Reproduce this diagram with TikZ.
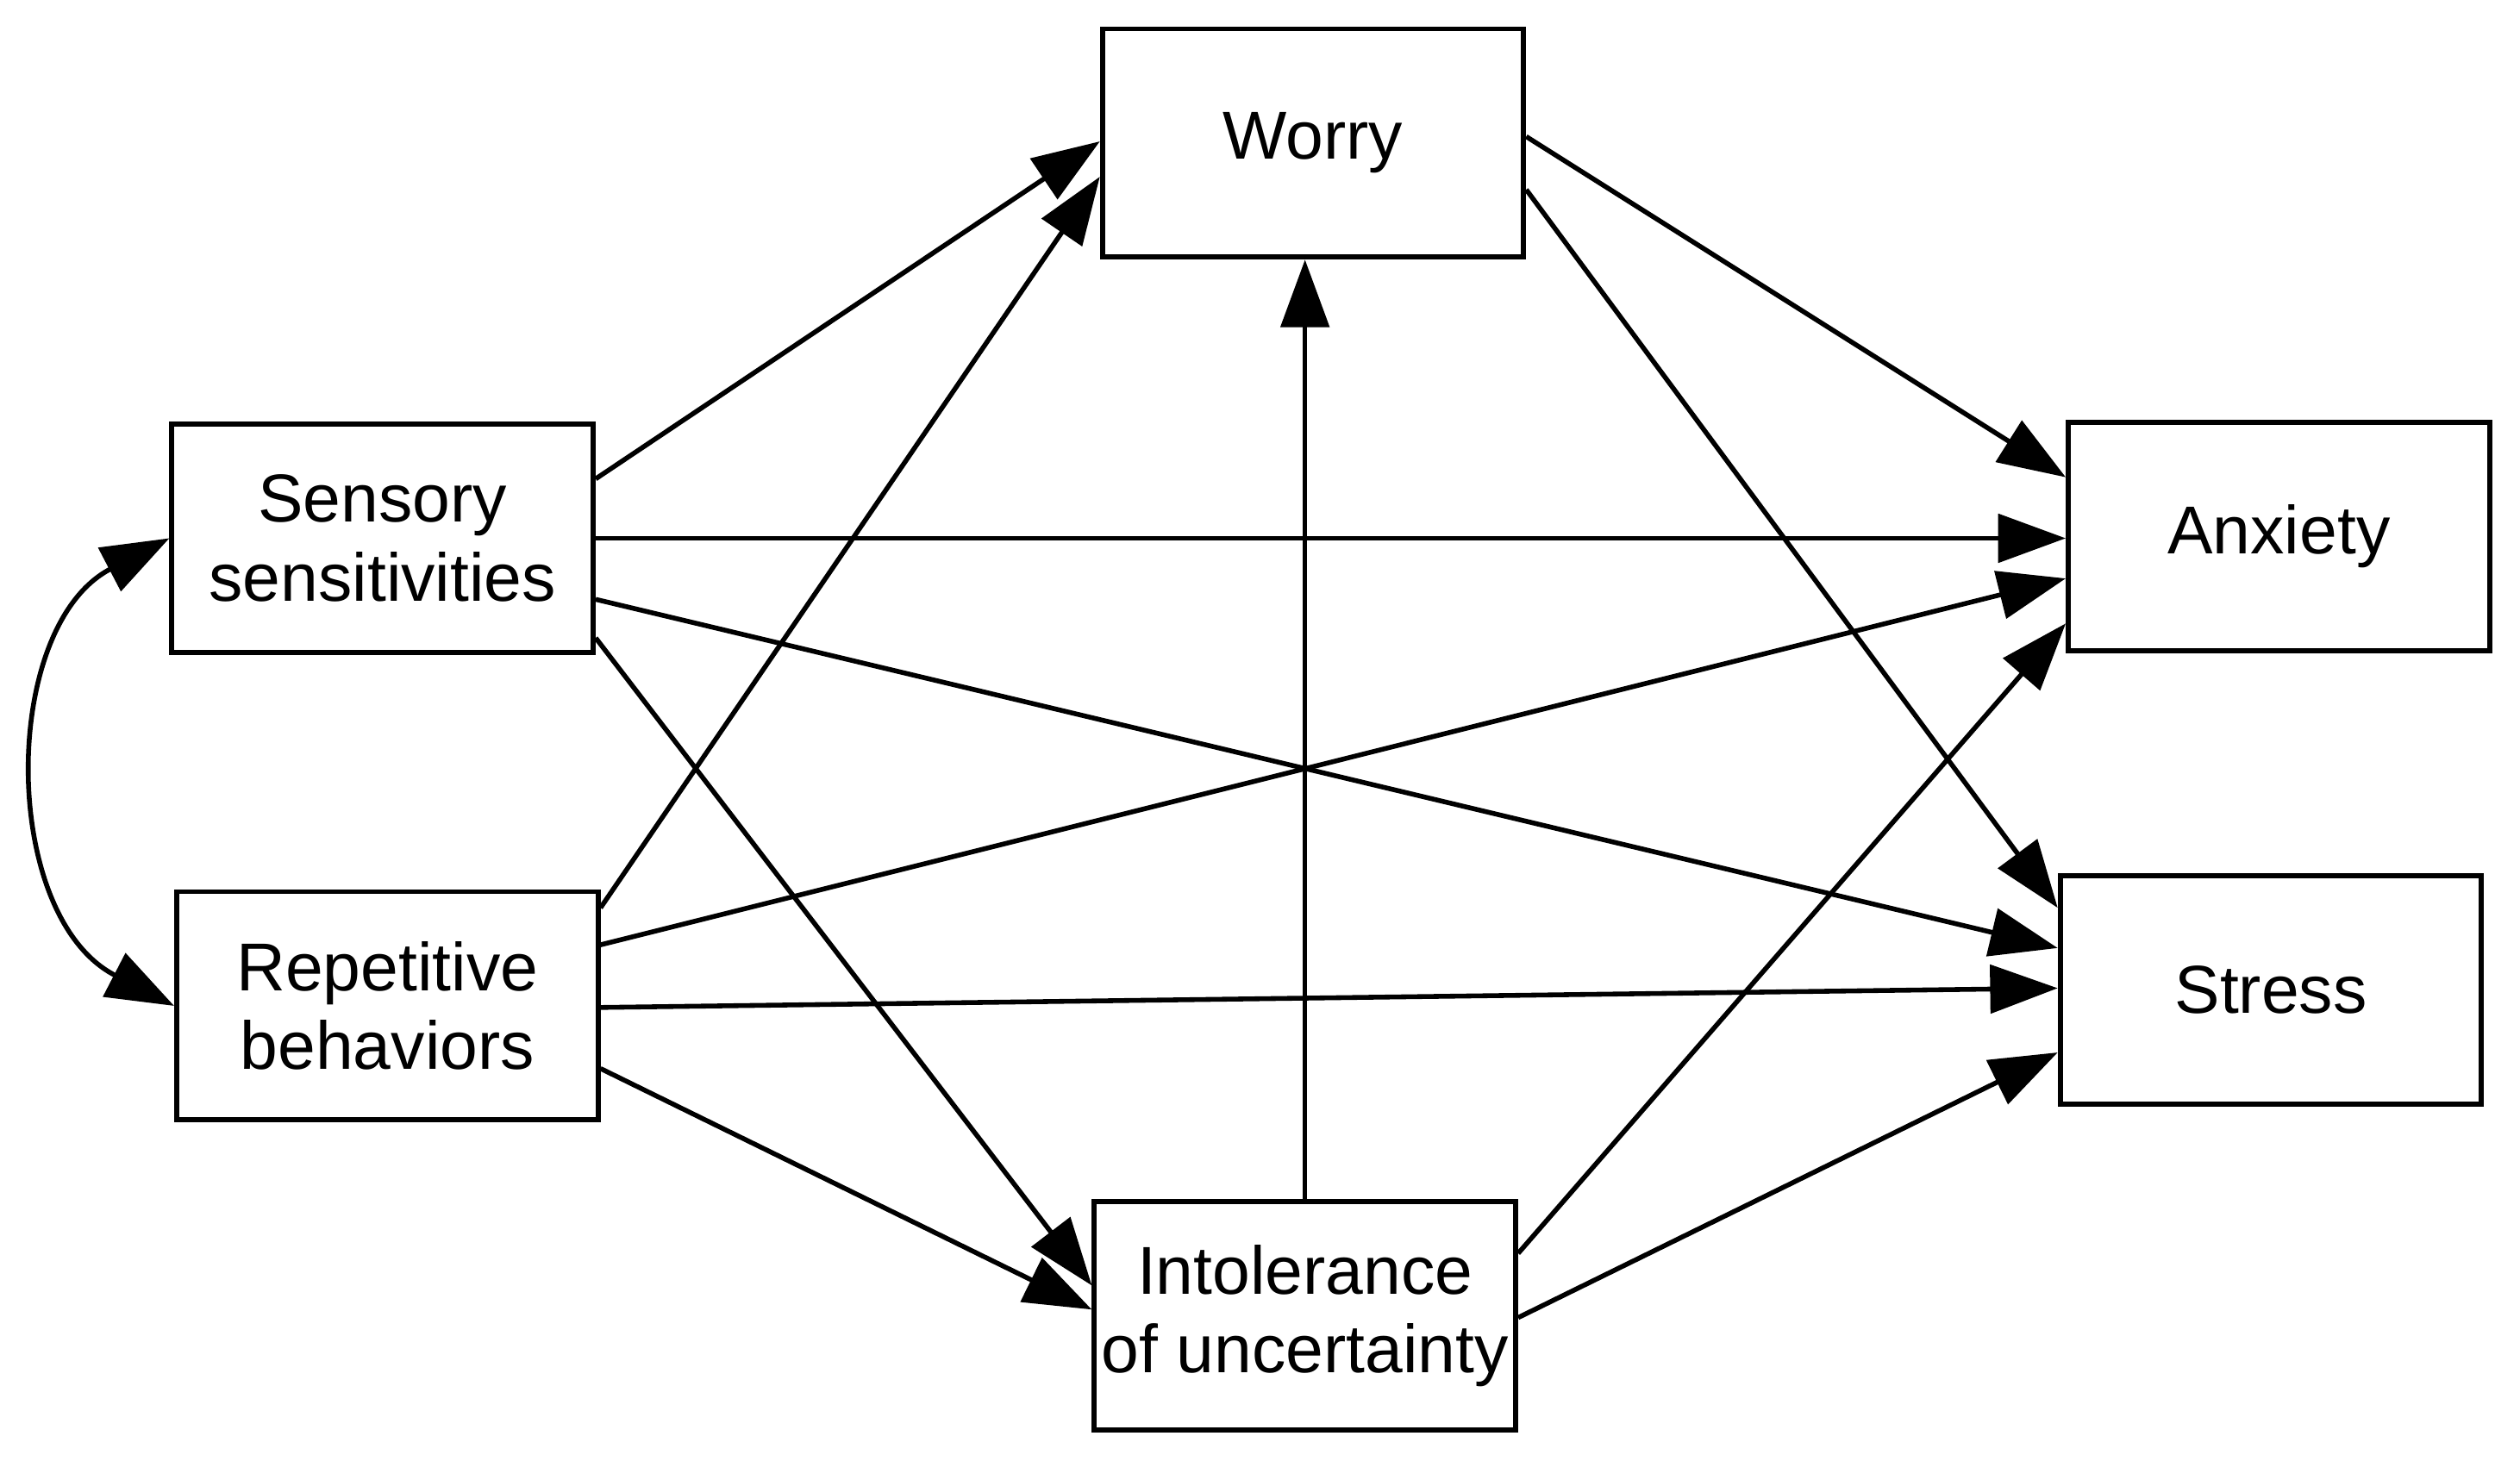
\documentclass[tikz,border=0pt]{standalone}
\usepackage{fontspec}
\setmainfont{Liberation Sans}
\usetikzlibrary{arrows.meta,calc}
\begin{document}
\begin{tikzpicture}[x=0.01cm,y=-0.01cm,
  box/.style={draw,line width=0.9pt,minimum width=2.62cm,minimum height=1.42cm,align=center,inner sep=0pt,font=\fontsize{12pt}{14pt}\selectfont},
  arr/.style={line width=0.85pt,-{Triangle[length=0.42cm,width=0.3cm]}}]
\useasboundingbox (0,0) rectangle (1568,909);
\node[box] (w) at (817,89) {Worry};
\node[box] (ss) at (238,335) {Sensory\\sensitivities};
\node[box] (rb) at (241,626) {Repetitive\\behaviors};
\node[box] (an) at (1418,334) {Anxiety};
\node[box] (st) at (1413,616) {Stress};
\node[box] (iu) at (812,819) {Intolerance\\of uncertainty};
% from SS
\draw[arr] ($(ss.east)+(0,-37)$) -- ($(w.west)+(0,-1)$);
\draw[arr] (ss.east) -- ($(an.west)+(0,1)$);
\draw[arr] ($(ss.east)+(0,38)$) -- ($(st.west)+(0,-26)$);
\draw[arr] ($(ss.east)+(0,62)$) -- ($(iu.west)+(0,-19)$);
% from RB
\draw[arr] ($(rb.east)+(0,-61)$) -- ($(w.west)+(0,21)$);
\draw[arr] ($(rb.east)+(0,-38)$) -- ($(an.west)+(0,26)$);
\draw[arr] ($(rb.east)+(0,1)$) -- ($(st.west)+(0,-1)$);
\draw[arr] ($(rb.east)+(0,39)$) -- ($(iu.west)+(0,-4)$);
% from IU
\draw[arr] (iu.north) -- (iu.north |- w.south);
\draw[arr] ($(iu.east)+(0,-39)$) -- ($(an.west)+(0,54)$);
\draw[arr] ($(iu.east)+(0,1)$) -- ($(st.west)+(0,39)$);
% from Worry
\draw[arr] ($(w.east)+(0,-4)$) -- ($(an.west)+(0,-37)$);
\draw[arr] ($(w.east)+(0,29)$) -- ($(st.west)+(0,-51)$);
% covariance
\draw[line width=0.85pt,{Triangle[length=0.42cm,width=0.3cm]}-{Triangle[length=0.42cm,width=0.3cm]}]
  (ss.west) .. controls (0,390) and (0,570) .. (rb.west);
\end{tikzpicture}
\end{document}
